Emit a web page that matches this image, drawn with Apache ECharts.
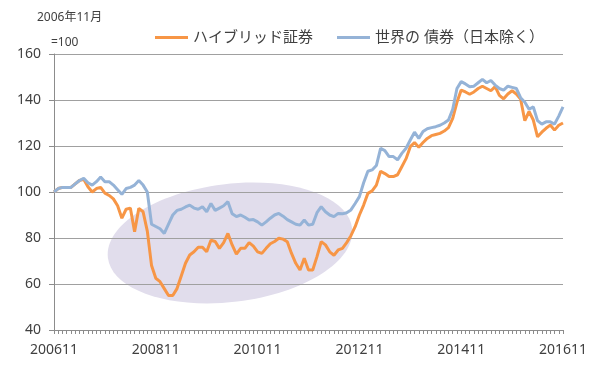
<!DOCTYPE html>
<html>
<head>
<meta charset="utf-8">
<script src="https://cdn.jsdelivr.net/npm/echarts@6/dist/echarts.min.js"></script>
<style>html,body{margin:0;padding:0;background:#fff}#c{width:600px;height:374px}</style>
</head>
<body>
<div id="c"></div>
<script>
// Monthly categories 2006-11 .. 2016-11
const startYear = 2006, startMonth = 11, monthCount = 121;
const categories = [];
for (let k = 0; k < monthCount; k++) {
  const m = startMonth - 1 + k;
  const y = startYear + Math.floor(m / 12);
  const mm = (m % 12) + 1;
  categories.push(String(y) + (mm < 10 ? '0' + mm : String(mm)));
}
const seriesNames = ['ハイブリッド証券', '世界の 債券（日本除く）'];
const hybrid = [
  100,101.5,102,102,102,103.5,105,105.5,102.3,100,
  101.5,102,99.5,98.5,97,94,88.6,92.5,93,82.7,
  92.9,91.4,83,68,62.5,61,58,55,55,58,
  63.5,69,72.6,74,76,76,74,79,78.5,75.5,
  78,82,77,73,75.5,75.5,78,76.5,74,73.3,
  75.5,77.5,78.5,79.9,79.5,78.4,73.3,69,66.1,71.2,
  66.1,66.1,71.9,78.4,77,74,72.5,74.8,75.5,78,
  81,84.9,90,94.3,99.4,100.5,103,109,108,106.7,
  106.7,107.5,111,114.5,119.7,121.5,119.5,121.5,123.3,124.5,
  125,125.5,126.5,128,132,139,144.3,143.5,142.5,143.5,
  145,146,145,144,145.8,142,140.5,142.6,144,142.6,
  140.4,131,135,131.3,124,126,127.7,129.1,126.9,129,
  130
];
const worldBond = [
  100,101.5,102,102,102,103.5,105,106,104,103,
  104.5,106.5,104.5,104.5,103,101,99,101.5,102,103,
  105,103,100,86,85,84,82,86,90,92,
  92.5,93.5,94.3,93,92.5,93.6,91.4,95,92,93,
  94,95.8,90.5,89.3,90,89,87.8,88,87,85.6,
  87,88.6,90,90.7,89.5,88,87,86,85.6,87.8,
  85.6,86,91,93.6,91.4,90,89.3,90.7,90.5,91,
  92.2,95,98,104,109,109.6,111.5,119,118,115.4,
  115.4,114,116.8,119,122.6,126,123.3,126.3,127.5,128,
  128.4,129,130,131.3,136,145,148,147,145.8,146,
  147.5,149,147.5,148.5,146.5,145,144.3,146,145.5,145,
  141,139,136,137,131,129.5,130.5,130.5,129.5,133,
  137
];
const yTicks = { min: 40, max: 160, interval: 20 };
const unitLine1 = '2006年11月';
const unitLine2 = '=100';

const FONT = '"Noto Sans", "Noto Sans CJK JP", sans-serif';
const chart = echarts.init(document.getElementById('c'), null, { renderer: 'canvas' });
chart.setOption({
  animation: false,
  backgroundColor: '#ffffff',
  textStyle: { fontFamily: FONT },
  grid: { left: 54, right: 37, top: 54, bottom: 44 },
  legend: {
    left: 150, top: 25,
    itemWidth: 33, itemHeight: 3, itemGap: 24,
    icon: 'rect',
    textStyle: { fontSize: 15, color: '#404040', fontFamily: FONT },
    data: seriesNames
  },
  graphic: {
    elements: [
      { type: 'ellipse', z: -10, silent: true,
        shape: { cx: 0, cy: 0, rx: 123, ry: 59 },
        x: 230, y: 243, rotation: 0.12,
        style: { fill: 'rgb(225,221,236)' } },
      { type: 'text', left: 37, top: 12, style: { text: unitLine1, fontSize: 12, fill: '#404040', fontFamily: FONT } },
      { type: 'text', left: 51, top: 37, style: { text: unitLine2, fontSize: 12, fill: '#404040', fontFamily: FONT } }
    ]
  },
  xAxis: {
    type: 'category', data: categories, boundaryGap: false,
    axisLine: { lineStyle: { color: '#8c8c8c', width: 1 } },
    axisTick: { show: true, interval: 0, length: 4, lineStyle: { color: '#8c8c8c' } },
    axisLabel: { interval: 23, fontSize: 14, color: '#404040', margin: 13, fontFamily: FONT },
    splitLine: { show: false }
  },
  yAxis: {
    type: 'value', min: yTicks.min, max: yTicks.max, interval: yTicks.interval,
    axisLine: { show: true, lineStyle: { color: '#8c8c8c', width: 1 } },
    axisTick: { show: true, length: 5, lineStyle: { color: '#8c8c8c' } },
    axisLabel: { fontSize: 14, color: '#404040', margin: 13, fontFamily: FONT },
    splitLine: { lineStyle: { color: '#a0a0a0', width: 1 } }
  },
  series: [
    { name: seriesNames[0], type: 'line', data: hybrid, showSymbol: false, symbol: 'none',
      lineStyle: { color: '#f79646', width: 3 }, itemStyle: { color: '#f79646' }, z: 3 },
    { name: seriesNames[1], type: 'line', data: worldBond, showSymbol: false, symbol: 'none',
      lineStyle: { color: '#95b3d7', width: 3 }, itemStyle: { color: '#95b3d7' }, z: 4 }
  ]
});
</script>
</body>
</html>
